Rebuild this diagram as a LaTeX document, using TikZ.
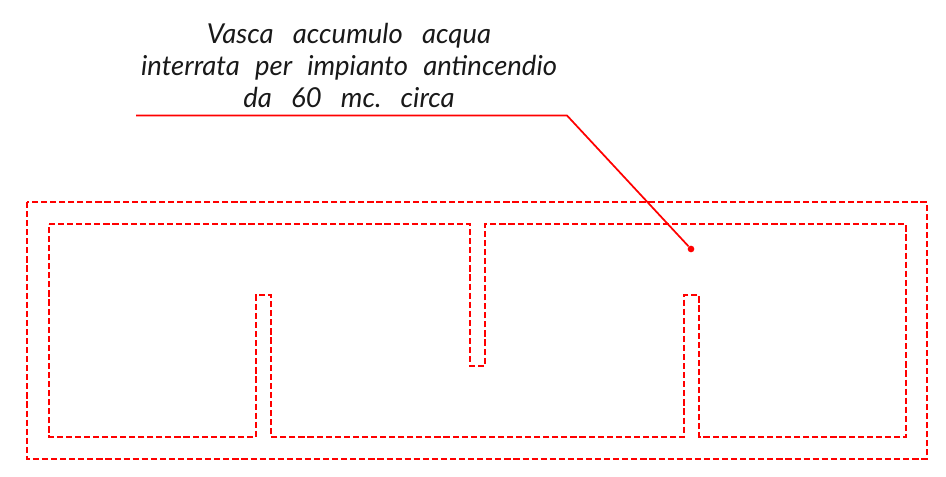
\documentclass[tikz,border=0pt]{standalone}
\usepackage{fontspec}
\setmainfont{Lato}
\usepackage{tikz}
\usetikzlibrary{calc}
\tikzset{wall/.style={red, line width=1.4pt, dash pattern=on 4.6pt off 2.2pt}}
\tikzset{leader/.style={red, line width=1.3pt}}
\tikzset{enddot/.style={circle, fill=red, inner sep=0pt, minimum size=5pt}}
\tikzset{caption/.style={align=center, font=\fontsize{20.6}{23.7}\selectfont\itshape, text=black!90, inner sep=0pt}}
\begin{document}
\begin{tikzpicture}[x=0.75pt,y=-0.75pt]
%tank plan with the leader to its label
\useasboundingbox (0,0) rectangle (946,477);
\node (label) at (349,65.5)[caption]{Vasca\hspace{0.7em}accumulo\hspace{0.7em}acqua\\interrata\hspace{0.55em}per\hspace{0.55em}impianto\hspace{0.55em}antincendio\\da\hspace{0.7em}60\hspace{0.7em}mc.\hspace{0.7em}circa};
\coordinate (start) at (136,115.5);
\coordinate (bend) at (567,115.5);
\node (dot) at (691,249)[enddot]{};
\draw[wall] (27,202) rectangle (927,459);
\draw[wall] (49,224)--(470,224)--(470,366)--(485,366)--(485,224)--(906,224)--(906,437)--(699,437)--(699,295)--(684,295)--(684,437)--(271,437)--(271,295)--(256,295)--(256,437)--(49,437)--cycle;
\draw[leader] (start)--(bend)--(dot);
\end{tikzpicture}
\end{document}
